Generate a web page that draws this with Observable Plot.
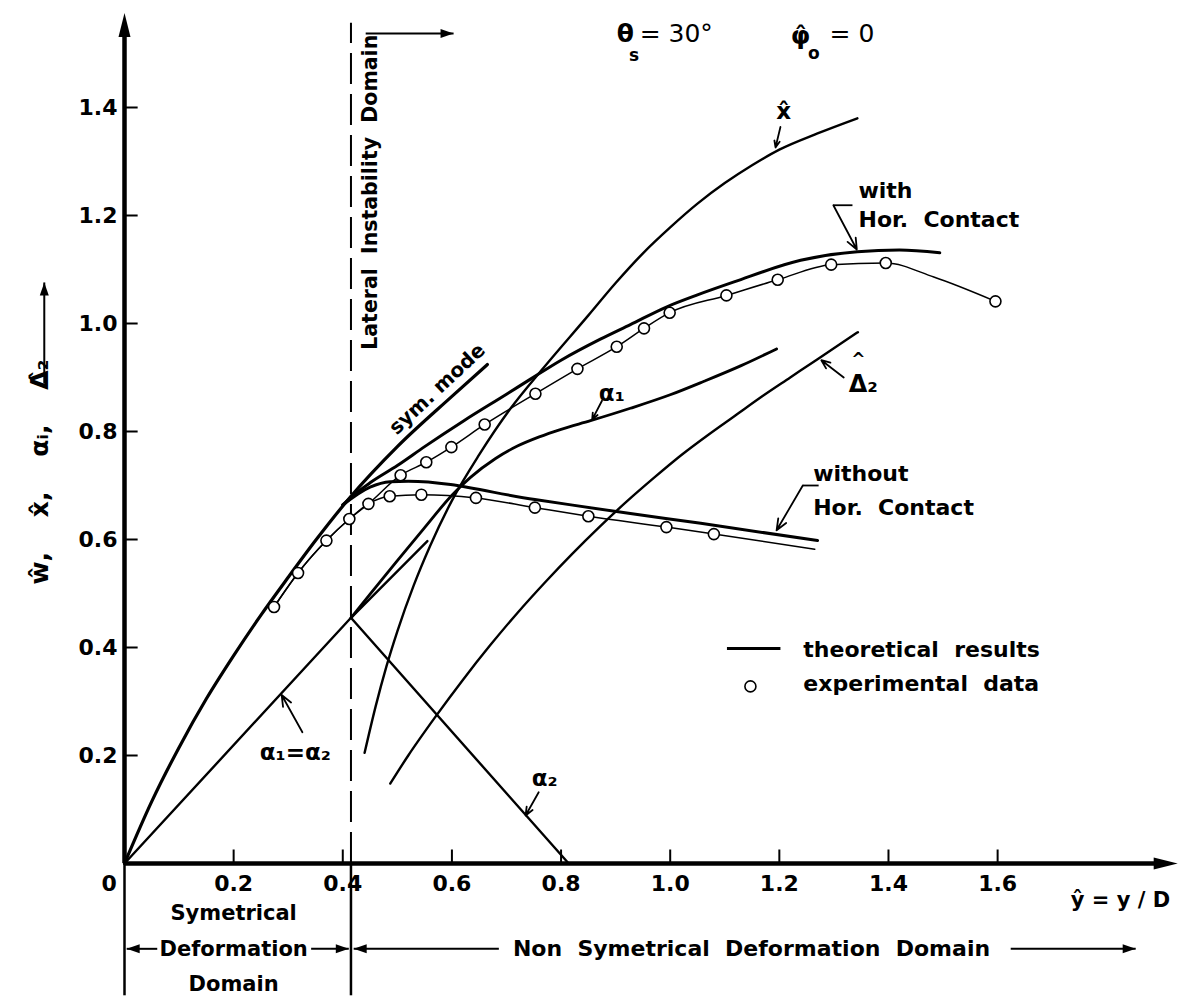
<!DOCTYPE html>
<html><head><meta charset="utf-8">
<script src="https://cdn.jsdelivr.net/npm/d3@7"></script>
<script src="https://cdn.jsdelivr.net/npm/@observablehq/plot@0.6"></script>
<style>
html,body{margin:0;padding:0;background:#fff;}
#chart svg{display:block;}
</style></head><body><div id="chart"></div>
<script>
// ---------------- data ----------------
const xTicks = [0.2, 0.4, 0.6, 0.8, 1.0, 1.2, 1.4, 1.6];
const yTicks = [0.2, 0.4, 0.6, 0.8, 1.0, 1.2, 1.4];
const instabilityLimit = [0.415];          // ŷ where the lateral instability domain starts
const axisEnds = {x: 1.93, y: 1.575};       // arrow tips of the two axes (data units)

const symMode = [[0,0],[0.05,0.115],[0.1,0.215],[0.15,0.305],[0.2,0.385],[0.25,0.46],[0.3,0.53],[0.35,0.598],[0.415,0.68],[0.5,0.772],[0.6,0.865],[0.665,0.924]];
const withContact = [[0.40,0.664],[0.415,0.678],[0.45,0.705],[0.5,0.737],[0.55,0.772],[0.622,0.82],[0.7,0.869],[0.744,0.897],[0.8,0.932],[0.872,0.971],[0.927,0.998],[0.994,1.031],[1.05,1.053],[1.117,1.077],[1.239,1.117],[1.343,1.133],[1.42,1.136],[1.494,1.131]];
const withoutContact = [[0.40,0.664],[0.45,0.697],[0.487,0.707],[0.52,0.708],[0.752,0.674],[0.927,0.648],[1.056,0.630],[1.27,0.598]];
const xHat = [[0.44,0.205],[0.46,0.29],[0.48,0.365],[0.5,0.43],[0.53,0.515],[0.56,0.588],[0.6,0.672],[0.65,0.757],[0.707,0.842],[0.768,0.918],[0.85,1.015],[0.9,1.075],[0.95,1.13],[1.0,1.178],[1.05,1.222],[1.1,1.26],[1.15,1.293],[1.2,1.322],[1.27,1.352],[1.343,1.38]];
const alpha1 = [[0.415,0.455],[0.45,0.499],[0.5,0.561],[0.55,0.622],[0.6,0.682],[0.634,0.715],[0.68,0.75],[0.72,0.773],[0.76,0.79],[0.8,0.804],[0.854,0.82],[0.927,0.843],[1.0,0.868],[1.062,0.893],[1.13,0.922],[1.195,0.953]];
const alphaEqual = [[0,0],[0.415,0.455],[0.555,0.597]];
const alpha2 = [[0.415,0.455],[0.814,0]];
const delta2 = [[0.487,0.148],[0.52,0.2],[0.57,0.272],[0.62,0.34],[0.67,0.404],[0.72,0.464],[0.77,0.52],[0.82,0.573],[0.87,0.623],[0.92,0.67],[0.97,0.714],[1.02,0.756],[1.07,0.794],[1.12,0.83],[1.17,0.866],[1.22,0.9],[1.27,0.934],[1.344,0.984]];

// experimental data
const expShared = [[0.274,0.475],[0.318,0.538],[0.370,0.598],[0.412,0.638],[0.447,0.666]];
const expWith = [[0.506,0.719],[0.553,0.743],[0.599,0.771],[0.660,0.813],[0.753,0.870],[0.830,0.916],[0.902,0.957],[0.952,0.991],[0.999,1.020],[1.103,1.052],[1.197,1.081],[1.295,1.109],[1.395,1.112],[1.596,1.041]];
const expWithout = [[0.486,0.680],[0.544,0.683],[0.644,0.677],[0.752,0.659],[0.850,0.643],[0.993,0.623],[1.08,0.61]];
const expWithTail = [[1.483,1.086]];      // bend of the fitted curve between the last two circles
const expWithoutTail = [[1.265,0.582]];   // fitted curve continues past the last circle

// annotation arrows [x1,y1,x2,y2] (tail -> tip)
const pointerArrows = [
  [0.326,0.243,0.288,0.312],   // α1=α2
  [0.759,0.132,0.735,0.089],   // α2
  [0.875,0.857,0.857,0.822],   // α1
  [1.202,1.364,1.193,1.326],   // x̂
  [1.318,0.900,1.277,0.932],   // Δ̂2
  [1.299,1.219,1.342,1.137],   // with Hor. Contact
  [1.243,0.700,1.195,0.617]    // without Hor. Contact
];
const leaderBars = [[1.299,1.219,1.334,1.219],[1.243,0.700,1.272,0.700]];

const greekLabels = [
  {t:"α₁=α₂", x:0.313, y:0.205},
  {t:"α₂", x:0.770, y:0.158},
  {t:"α₁", x:0.893, y:0.870},
  {t:"x\u0302", x:1.208, y:1.392}
];
const deltaLabel = [{t:"Δ₂", x:1.327, y:0.888}];
const deltaHat = [{t:"^", x:1.345, y:0.934}];
const curveLabels = [
  {t:"with", x:1.345, y:1.246},
  {t:"Hor.  Contact", x:1.345, y:1.191},
  {t:"without", x:1.262, y:0.722},
  {t:"Hor.  Contact", x:1.262, y:0.659}
];
const symModeLabel = [{t:"sym. mode", x:0.573, y:0.879}];
const lateralLabel = [{t:"Lateral  Instability  Domain", x:0.451, y:1.243}];
const lateralArrow = [[0.442,1.537,0.603,1.537]];
const paramMain = [{t:"θ", x:0.918, y:1.537},{t:"φ\u0302", x:1.239, y:1.533}];
const paramValue = [{t:"= 30°", x:0.944, y:1.537},{t:"= 0", x:1.292, y:1.537}];
const paramSubs = [{t:"s", x:0.934, y:1.497},{t:"o", x:1.263, y:1.500}];

const legendLine = [[1.104,0.398,1.202,0.398]];
const legendDot = [[1.147,0.328]];
const legendText = [{t:"theoretical  results", x:1.244, y:0.396},{t:"experimental  data", x:1.244, y:0.333}];

const yTitle = [{t:"ŵ,    x\u0302,    αᵢ,    Δ\u0302₂", x:-0.155, y:0.725}];
const yTitleArrow = [[-0.147,0.889,-0.147,1.076]];
const xTitle = [{t:"ŷ = y / D", x:1.825, y:-0.069}];
const originLabel = [{t:"0", x:-0.028, y:-0.037}];

const domainRowY = -0.158;
const domainTexts = [
  {t:"Symetrical", x:0.2, y:-0.093},
  {t:"Deformation", x:0.2, y:domainRowY},
  {t:"Domain", x:0.2, y:-0.224}
];
const nonSymText = [{t:"Non  Symetrical  Deformation  Domain", x:1.149, y:domainRowY}];
const domainArrows = [
  [0.060,domainRowY,0.004,domainRowY],
  [0.342,domainRowY,0.411,domainRowY],
  [0.686,domainRowY,0.420,domainRowY],
  [1.624,domainRowY,1.853,domainRowY]
];
const domainBounds = [0, 0.415];
const domainBottom = -0.245;

// ---------------- drawing ----------------
const W = 1179, H = 999;
const left = 124, unitX = 545.7, originY = 863, unitY = 540;
const FONT = "DejaVu Sans";

const P = d => ({x: d[0], y: d[1]});
const pts = a => a.map(P);
const seg = a => a.map(d => ({x1:d[0], y1:d[1], x2:d[2], y2:d[3]}));

// filled arrow head symbol, tip at the anchor, pointing up before rotation
const head = (len, half) => ({draw(ctx){ ctx.moveTo(0,0); ctx.lineTo(half,len); ctx.lineTo(-half,len); ctx.closePath(); }});
const bigHead = head(24, 6);
const smallHead = head(13, 4.5);

const domainHeads = domainArrows.map(d => ({x:d[2], y:d[3], r: d[2] > d[0] ? 90 : -90}));

const lineOpts = (w) => ({x:"x", y:"y", stroke:"black", strokeWidth:w, curve:"monotone-x", strokeLinecap:"round", strokeLinejoin:"round"});

const chart = Plot.plot({
  width: W, height: H,
  marginLeft: left, marginRight: W - left - 1.6*unitX,
  marginTop: originY - 1.4*unitY, marginBottom: H - originY,
  style: {fontFamily: FONT, fontSize: "22px", fontWeight: "bold", background: "white", color: "black"},
  x: {domain: [0, 1.6], ticks: xTicks, tickSize: 0, tickPadding: 12, tickFormat: d3.format(".1f"), label: null},
  y: {domain: [0, 1.4], ticks: yTicks, tickSize: 0, tickPadding: 7, tickFormat: d3.format(".1f"), label: null},
  marks: [
    // tick marks (inward)
    Plot.ruleX(xTicks, {y1: 0, y2: 0.025, stroke: "black", strokeWidth: 2}),
    Plot.ruleY(yTicks, {x1: 0, x2: 0.025, stroke: "black", strokeWidth: 2}),
    // axes
    Plot.ruleY([0], {x1: 0, x2: axisEnds.x - 0.03, stroke: "black", strokeWidth: 4.5}),
    Plot.ruleX([0], {y1: 0, y2: axisEnds.y - 0.03, stroke: "black", strokeWidth: 4.5}),
    Plot.dot([{x: axisEnds.x, y: 0}], {x:"x", y:"y", symbol: bigHead, rotate: 90, fill: "black", stroke: "none"}),
    Plot.dot([{x: 0, y: axisEnds.y}], {x:"x", y:"y", symbol: bigHead, rotate: 0, fill: "black", stroke: "none"}),
    // domain boundaries
    Plot.ruleX(instabilityLimit, {y1: 0, y2: 1.556, stroke: "black", strokeWidth: 2, strokeDasharray: "31,10"}),
    Plot.ruleX(domainBounds, {y1: 0, y2: domainBottom, stroke: "black", strokeWidth: 2.5}),
    // theoretical curves
    Plot.line(pts(alphaEqual), {...lineOpts(2.4), curve: "linear"}),
    Plot.line(pts(alpha2), {...lineOpts(2.4), curve: "linear"}),
    Plot.line(pts(delta2), lineOpts(2.4)),
    Plot.line(pts(xHat), lineOpts(2.4)),
    Plot.line(pts(alpha1), lineOpts(2.8)),
    Plot.line(pts(withoutContact), lineOpts(3)),
    Plot.line(pts(withContact), lineOpts(3)),
    Plot.line(pts(symMode), lineOpts(3.2)),
    // experimental curves and points
    Plot.line(pts([...expShared, ...expWith.slice(0, -1), ...expWithTail, ...expWith.slice(-1)]), lineOpts(1.5)),
    Plot.line(pts([...expShared, ...expWithout, ...expWithoutTail]), lineOpts(1.5)),
    Plot.dot(pts([...expShared, ...expWith, ...expWithout]), {x:"x", y:"y", r: 5.5, fill: "white", stroke: "black", strokeWidth: 1.6}),
    // pointer arrows
    Plot.arrow(seg(pointerArrows), {x1:"x1", y1:"y1", x2:"x2", y2:"y2", stroke:"black", strokeWidth: 1.8, headLength: 10, headAngle: 45}),
    Plot.link(seg(leaderBars), {x1:"x1", y1:"y1", x2:"x2", y2:"y2", stroke:"black", strokeWidth: 1.8}),
    // labels
    Plot.text(greekLabels, {x:"x", y:"y", text:"t", fontSize: 23, fontWeight: "bold"}),
    Plot.text(deltaLabel, {x:"x", y:"y", text:"t", fontSize: 24, fontWeight: "bold", textAnchor: "start"}),
    Plot.text(deltaHat, {x:"x", y:"y", text:"t", fontSize: 17, fontWeight: "bold"}),
    Plot.text(curveLabels, {x:"x", y:"y", text:"t", fontSize: 22, textAnchor: "start", fontWeight: "bold"}),
    Plot.text(symModeLabel, {x:"x", y:"y", text:"t", fontSize: 20, rotate: -43, fontWeight: "bold"}),
    Plot.text(lateralLabel, {x:"x", y:"y", text:"t", fontSize: 20.5, rotate: -90, fontWeight: "bold"}),
    Plot.link(seg(lateralArrow), {x1:"x1", y1:"y1", x2:"x2", y2:"y2", stroke:"black", strokeWidth: 2}),
    Plot.dot(lateralArrow.map(d => ({x:d[2], y:d[3]})), {x:"x", y:"y", symbol: smallHead, rotate: 90, fill:"black", stroke:"none"}),
    Plot.text(paramMain, {x:"x", y:"y", text:"t", fontSize: 25, fontWeight: "bold"}),
    Plot.text(paramValue, {x:"x", y:"y", text:"t", fontSize: 25, fontWeight: "normal", textAnchor: "start"}),
    Plot.text(paramSubs, {x:"x", y:"y", text:"t", fontSize: 17, fontWeight: "bold"}),
    // legend
    Plot.link(seg(legendLine), {x1:"x1", y1:"y1", x2:"x2", y2:"y2", stroke:"black", strokeWidth: 3}),
    Plot.dot(pts(legendDot), {x:"x", y:"y", r: 5.5, fill:"white", stroke:"black", strokeWidth: 1.6}),
    Plot.text(legendText, {x:"x", y:"y", text:"t", fontSize: 22, textAnchor: "start", fontWeight: "bold"}),
    // axis titles
    Plot.text(yTitle, {x:"x", y:"y", text:"t", fontSize: 25, rotate: -90, fontWeight: "bold"}),
    Plot.link(seg(yTitleArrow), {x1:"x1", y1:"y1", x2:"x2", y2:"y2", stroke:"black", strokeWidth: 2}),
    Plot.dot(yTitleArrow.map(d => ({x:d[2], y:d[3]})), {x:"x", y:"y", symbol: smallHead, rotate: 0, fill:"black", stroke:"none"}),
    Plot.text(xTitle, {x:"x", y:"y", text:"t", fontSize: 21, fontWeight: "bold"}),
    Plot.text(originLabel, {x:"x", y:"y", text:"t", fontSize: 22, fontWeight: "bold"}),
    // domain annotations under the axis
    Plot.text(domainTexts, {x:"x", y:"y", text:"t", fontSize: 21, fontWeight: "bold"}),
    Plot.text(nonSymText, {x:"x", y:"y", text:"t", fontSize: 22, fontWeight: "bold"}),
    Plot.link(seg(domainArrows), {x1:"x1", y1:"y1", x2:"x2", y2:"y2", stroke:"black", strokeWidth: 2}),
    Plot.dot(domainHeads, {x:"x", y:"y", rotate:"r", symbol: smallHead, fill:"black", stroke:"none"})
  ]
});
document.getElementById("chart").appendChild(chart);
</script></body></html>
